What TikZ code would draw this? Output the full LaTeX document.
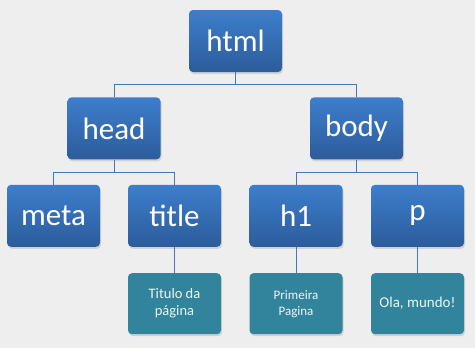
\documentclass[tikz,border=0pt]{standalone}
\usepackage{fontspec}
\setmainfont{Carlito}
\usetikzlibrary{positioning,shadows}

\definecolor{tagtop}{HTML}{3D7ECC}
\definecolor{tagbottom}{HTML}{2C5C9B}
\definecolor{leafteal}{HTML}{31849B}
\definecolor{linkblue}{HTML}{4A77B4}
\definecolor{paper}{HTML}{EEEEEE}

\begin{document}
\begin{tikzpicture}[
	x=1pt, y=1pt,
	box/.style={
		rectangle, rounded corners=4pt, inner sep=0pt,
		minimum width=93pt, minimum height=62pt,
		align=center,
		drop shadow={shadow xshift=1pt, shadow yshift=-2pt, opacity=0.25}
	},
	tagbox/.style={
		box, top color=tagtop, bottom color=tagbottom,
		text=white, font=\fontsize{31}{31}\selectfont
	},
	leafbox/.style={
		box, minimum height=61pt, fill=leafteal,
		text=white!92!leafteal
	},
	link/.style={draw=linkblue, line width=0.9pt}
	]

	% background
	\fill[paper] (0,0) rectangle (475,-348);

	% root
	\node[tagbox] (html) at (235.5,-41) {html};

	% head and body
	\node[tagbox, below=25pt of html, xshift=-121.5pt] (head) {head};
	\node[tagbox, below=25pt of html, xshift=121pt] (body) {body};

	% children of head
	\node[tagbox, below=25pt of head, xshift=-60.5pt] (meta) {meta};
	\node[tagbox, below=25pt of head, xshift=60.5pt] (title) {title};

	% children of body
	\node[tagbox, below=25pt of body, xshift=-60.5pt] (h1) {h1};
	\node[tagbox, below=25pt of body, xshift=61pt] (p) {p};

	% text contents
	\node[leafbox, below=26pt of title, font=\fontsize{14.5}{17}\selectfont] (titletext) {Titulo da\\página};
	\node[leafbox, below=26pt of h1, font=\fontsize{13}{16}\selectfont] (h1text) {Primeira\\Pagina};
	\node[leafbox, below=26pt of p, font=\fontsize{15}{17}\selectfont] (ptext) {Ola, mundo!};

	% tree lines
	\draw[link] (html.south) -- ++(0,-12) -| (head.north);
	\draw[link] (html.south) -- ++(0,-12) -| (body.north);
	\draw[link] (head.south) -- ++(0,-13) -| (meta.north);
	\draw[link] (head.south) -- ++(0,-13) -| (title.north);
	\draw[link] (body.south) -- ++(0,-13) -| (h1.north);
	\draw[link] (body.south) -- ++(0,-13) -| (p.north);
	\draw[link] (title) -- (titletext);
	\draw[link] (h1) -- (h1text);
	\draw[link] (p) -- (ptext);
\end{tikzpicture}
\end{document}
